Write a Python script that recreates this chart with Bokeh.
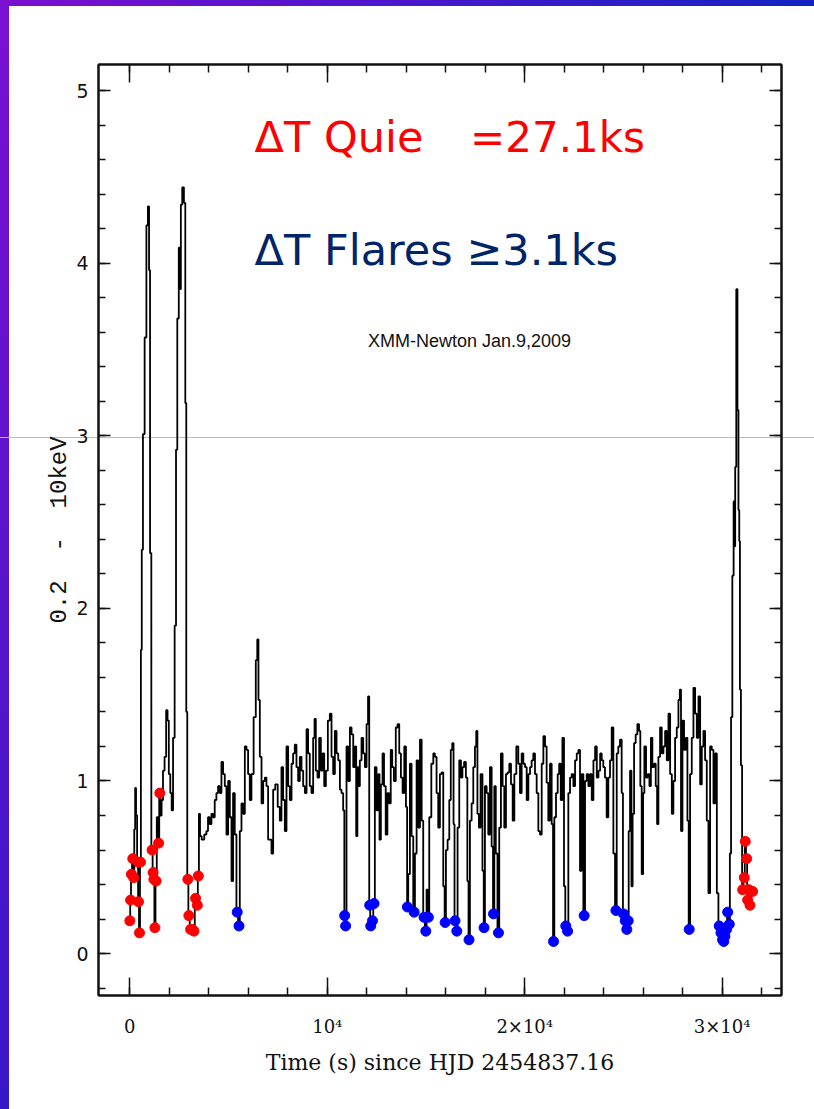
from bokeh.plotting import figure
from bokeh.models import Label, LinearAxis, SingleIntervalTicker, CustomJSTickFormatter, Range1d
from bokeh.embed import file_html
from bokeh.resources import INLINE

# ---- light curve (time in s, count rate 0.2-10 keV) ----
time_s = [0, 40, 80, 150, 200, 250, 290, 340, 400, 440, 490, 540, 580, 630, 700, 800, 880, 950, 1000, 1050,
          1130, 1180, 1220, 1270, 1330, 1400, 1460, 1520, 1580, 1640, 1720, 1800, 1880, 1940, 2010, 2090, 2150,
          2230, 2310, 2370, 2440, 2520, 2560, 2610, 2700, 2780, 2840, 2880, 2940, 2990, 3080, 3160, 3250, 3330,
          3420, 3470, 3530, 3580, 3700, 3840, 3920, 4000, 4090, 4180, 4260, 4340, 4430, 4510, 4600, 4680, 4770,
          4850, 4940, 5020, 5110, 5190, 5270, 5360, 5440, 5530, 5610, 5700, 5780, 5870, 5950, 6030, 6120, 6200,
          6340, 6420, 6490, 6540, 6630, 6710, 6800, 6880, 6960, 7050, 7130, 7220, 7300, 7430, 7550, 7640, 7720,
          7810, 7890, 7980, 8060, 8150, 8230, 8310, 8400, 8480, 8570, 8650, 8740, 8820, 8910, 8990, 9070, 9160,
          9240, 9330, 9380, 9460, 9550, 9630, 9720, 9800, 9890, 9970, 10090, 10170, 10260, 10340, 10430, 10510,
          10600, 10680, 10760, 10850, 10880, 10930, 11020, 11100, 11190, 11270, 11360, 11440, 11490, 11560, 11610,
          11690, 11780, 11860, 11950, 12030, 12100, 12150, 12200, 12290, 12370, 12450, 12540, 12620, 12670, 12760,
          12840, 12910, 13010, 13080, 13180, 13250, 13330, 13420, 13520, 13600, 13690, 13770, 13860, 13940, 14030,
          14060, 14140, 14230, 14310, 14400, 14480, 14570, 14650, 14740, 14820, 14900, 14990, 15070, 15120, 15210,
          15330, 15410, 15490, 15580, 15660, 15750, 15830, 15920, 15970, 16050, 16140, 16220, 16290, 16370, 16420,
          16470, 16560, 16640, 16730, 16810, 16880, 16980, 17060, 17130, 17180, 17270, 17350, 17440, 17520, 17570,
          17640, 17720, 17810, 17910, 17940, 18030, 18110, 18200, 18280, 18370, 18420, 18500, 18570, 18670, 18750,
          18840, 18920, 19010, 19090, 19180, 19260, 19350, 19430, 19520, 19630, 19720, 19800, 19890, 19970, 20060,
          20140, 20230, 20310, 20390, 20480, 20560, 20650, 20730, 20820, 20900, 20990, 21070, 21150, 21240, 21320,
          21410, 21460, 21540, 21630, 21710, 21780, 21870, 21950, 22030, 22080, 22170, 22250, 22340, 22420, 22510,
          22590, 22680, 22760, 22840, 22930, 23010, 23100, 23180, 23270, 23350, 23440, 23520, 23610, 23690, 23780,
          23860, 23940, 24020, 24110, 24190, 24280, 24360, 24450, 24530, 24620, 24700, 24780, 24870, 24950, 25000,
          25090, 25170, 25240, 25290, 25380, 25430, 25500, 25580, 25660, 25750, 25830, 25880, 25970, 26020, 26100,
          26190, 26270, 26360, 26420, 26510, 26590, 26680, 26730, 26810, 26900, 26980, 27070, 27150, 27240, 27320,
          27410, 27490, 27570, 27660, 27740, 27830, 27880, 27950, 28030, 28110, 28200, 28280, 28330, 28420, 28500,
          28590, 28670, 28760, 28840, 28930, 29010, 29090, 29180, 29260, 29350, 29430, 29520, 29600, 29690, 29770,
          29850, 29940, 30020, 30080, 30140, 30220, 30280, 30360, 30420, 30480, 30550, 30610, 30640, 30680, 30750,
          30800, 30850, 30880, 30920, 30980, 31040, 31120, 31170, 31240, 31290, 31350, 31410, 31540]

rate = [0.19, 0.31, 0.46, 0.55, 0.44, 0.72, 0.96, 0.80, 0.53, 0.30, 0.12, 0.53, 1.76, 2.34, 3.01, 3.57, 4.22, 4.33, 3.96, 2.32,
        0.60, 0.47, 0.43, 0.15, 0.42, 0.79, 0.64, 0.93, 0.80, 0.89, 1.06, 1.14, 1.41, 1.35, 1.04, 0.93, 0.83,
        1.25, 1.90, 2.92, 3.68, 4.09, 3.85, 4.34, 4.44, 4.35, 3.19, 1.40, 0.43, 0.22, 0.14, 0.14, 0.13, 0.32,
        0.28, 0.45, 0.81, 0.68, 0.66, 0.69, 0.71, 0.79, 0.75, 0.81, 0.79, 0.89, 0.93, 0.97, 0.93, 1.11, 1.04,
        0.97, 0.69, 1.00, 0.79, 0.42, 0.93, 0.69, 0.24, 0.16, 0.71, 0.87, 0.81, 1.20, 1.18, 1.04, 0.89, 1.04,
        1.37, 1.70, 1.82, 1.47, 1.14, 0.87, 1.00, 1.02, 0.97, 0.66, 0.66, 0.58, 0.95, 0.98, 0.85, 0.77, 1.08,
        0.89, 0.71, 1.20, 0.97, 0.89, 1.10, 1.16, 1.21, 1.08, 1.00, 1.14, 1.06, 0.97, 0.93, 1.30, 1.16, 0.97,
        0.93, 1.25, 1.36, 1.06, 1.02, 1.25, 1.06, 1.16, 0.97, 1.06, 1.35, 1.39, 1.14, 1.04, 1.29, 1.16,
        1.12, 0.95, 0.93, 0.83, 0.22, 0.16, 1.20, 1.00, 1.31, 1.27, 1.08, 1.20, 0.68, 1.08, 0.97,
        1.12, 1.25, 1.16, 1.08, 1.33, 1.49, 0.28, 0.16, 0.19, 0.29, 1.08, 0.83, 1.04, 0.66, 0.98,
        1.16, 0.97, 0.69, 0.93, 0.87, 1.18, 1.08, 1.00, 1.31, 1.33, 1.16, 1.02, 0.93, 1.20, 0.85,
        0.27, 0.46, 1.10, 0.68, 0.24, 0.58, 1.12, 0.73, 1.24, 0.77, 0.21, 0.13, 0.37, 0.21, 0.79,
        1.10, 1.16, 1.14, 0.93, 0.73, 1.04, 1.05, 0.39, 0.18, 0.60, 0.66, 0.89, 1.18, 1.22, 0.75,
        0.19, 0.13, 0.73, 1.12, 1.02, 1.08, 1.11, 1.02, 0.42, 0.08, 0.77, 0.87, 1.08, 1.20, 1.29,
        0.81, 0.73, 1.04, 0.48, 0.15, 0.97, 0.93, 0.69, 1.08, 0.62, 0.23, 0.97, 0.58, 0.12, 0.73,
        1.16, 0.97, 0.73, 1.04, 1.05, 1.10, 0.98, 0.77, 1.04, 1.20, 1.10, 0.93, 1.16, 1.10, 1.08,
        0.89, 1.04, 1.08, 1.12, 1.16, 1.04, 0.93, 0.71, 0.69, 1.10, 1.26, 1.20, 0.99, 0.77, 1.10,
        0.75, 0.07, 0.79, 0.93, 1.04, 1.10, 0.89, 1.25, 0.39, 0.16, 0.13, 0.93, 1.02, 1.04, 0.97,
        1.12, 1.16, 1.18, 0.48, 1.04, 0.22, 1.00, 1.04, 0.97, 1.04, 0.89, 1.12, 1.20, 1.02, 1.06,
        1.16, 1.12, 1.08, 1.02, 0.79, 1.02, 1.12, 1.31, 0.58, 0.25, 1.16, 1.20, 1.24, 0.93, 0.23,
        0.19, 0.14, 0.19, 0.71, 1.06, 0.39, 0.81, 1.22, 1.27, 1.33, 1.29, 0.97, 0.46, 0.93, 1.20,
        1.02, 1.04, 0.97, 1.25, 1.08, 1.10, 0.97, 0.75, 1.14, 1.31, 1.16, 1.20, 1.29, 1.12, 1.39,
        1.04, 0.81, 1.00, 1.25, 1.31, 1.47, 1.53, 0.71, 1.35, 1.18, 1.25, 0.77, 0.14, 1.04, 1.25,
        1.54, 1.39, 1.25, 1.49, 0.98, 1.20, 1.29, 1.12, 0.77, 0.35, 1.20, 1.18, 0.87, 1.16, 0.35,
        0.16, 0.12, 0.08, 0.07, 0.10, 0.14, 0.24, 0.17, 0.58, 1.37, 2.19, 2.62, 2.36, 2.82, 3.85,
        3.15, 2.57, 2.39, 1.53, 1.09, 0.37, 0.44, 0.65, 0.55, 0.31, 0.37, 0.28, 0.36]

# bins marked with red dots (quiescent) and blue dots (dips)
red_times = [0, 40, 80, 150, 200, 400, 440, 490, 540, 1130, 1180, 1220, 1270, 1330, 1460, 1520,
             2940, 2990, 3080, 3160, 3250, 3330, 3420, 3470,
             31040, 31120, 31170, 31240, 31290, 31350, 31410, 31540]
blue_times = [5440, 5530, 10880, 10930, 12150, 12200, 12290, 12370, 14060, 14400, 14900, 14990, 15120,
              15970, 16470, 16560, 17180, 17940, 18420, 18670, 21460, 22080, 22170, 23010, 24620,
              25000, 25090, 25170, 25240, 28330, 29850, 29940, 30020, 30080, 30140, 30220, 30280, 30360]

x_ticks = [0, 10000, 20000, 30000]
x_tick_labels = ["0", "10\u2074", "2\u00d710\u2074", "3\u00d710\u2074"]

lookup = dict(zip(time_s, rate))
red_v = [lookup[t] for t in red_times]
blue_v = [lookup[t] for t in blue_times]

p = figure(width=814, height=1109, output_backend="svg", toolbar_location=None,
           x_range=Range1d(-1586, 33005), y_range=Range1d(-0.243, 5.152),
           min_border_left=98, min_border_right=33, min_border_top=64, min_border_bottom=114)

p.styles = {"background": (
    "linear-gradient(#b9b9de, #b9b9de) 0 437px / 100% 1px no-repeat, "
    "linear-gradient(90deg, #7c0fcf, #4a17cc 50%, #1423c0) 0 0 / 100% 6px no-repeat, "
    "linear-gradient(180deg, #7a10d0, #5a14cc 50%, #3817c8) 0 0 / 9px 100% no-repeat, #ffffff")}
p.border_fill_alpha = 0
p.background_fill_alpha = 0
p.outline_line_color = "#111111"
p.outline_line_width = 2
p.grid.visible = False

p.step(time_s, rate, mode="center", line_color="black", line_width=1.8)
p.scatter(red_times, red_v, size=10, color="#ff0000")
p.scatter(blue_times, blue_v, size=10, color="#0000ff")


def style_axis(ax, ticker):
    ax.ticker = ticker
    ax.axis_line_color = "#111111"
    ax.axis_line_width = 2
    ax.major_tick_line_color = "#111111"
    ax.minor_tick_line_color = "#111111"
    ax.major_tick_line_width = 1.5
    ax.minor_tick_line_width = 1.5
    ax.major_tick_out = 0
    ax.minor_tick_out = 0


for ax in p.xaxis:
    style_axis(ax, SingleIntervalTicker(interval=10000, num_minor_ticks=5))
    ax.major_tick_in = 18
    ax.minor_tick_in = 8
    ax.major_label_overrides = dict(zip(x_ticks, x_tick_labels))
    ax.major_label_text_font = "DejaVu Serif"
    ax.major_label_text_font_size = "18px"
    ax.major_label_text_color = "#111111"
    ax.major_label_standoff = 20
    ax.axis_label = "Time (s) since HJD 2454837.16"
    ax.axis_label_text_font = "DejaVu Serif"
    ax.axis_label_text_font_size = "22px"
    ax.axis_label_text_font_style = "normal"
    ax.axis_label_text_color = "#111111"
    ax.axis_label_standoff = 10

for ax in p.yaxis:
    style_axis(ax, SingleIntervalTicker(interval=1, num_minor_ticks=5))
    ax.major_tick_in = 12
    ax.minor_tick_in = 7
    ax.major_label_text_font = "DejaVu Sans"
    ax.major_label_text_font_size = "19px"
    ax.major_label_text_color = "#111111"
    ax.major_label_standoff = 10
    ax.major_label_orientation = "horizontal"
    ax.axis_label = "0.2\u00a0\u00a0-\u00a0\u00a010keV"
    ax.axis_label_text_font = "Liberation Mono"
    ax.axis_label_text_font_size = "24px"
    ax.axis_label_text_font_style = "normal"
    ax.axis_label_text_color = "#111111"
    ax.axis_label_standoff = 0

blank = CustomJSTickFormatter(code="return ''")
top = LinearAxis(formatter=blank)
style_axis(top, SingleIntervalTicker(interval=10000, num_minor_ticks=5))
top.major_tick_in = 18
top.minor_tick_in = 8
p.add_layout(top, "above")
right = LinearAxis(formatter=blank)
style_axis(right, SingleIntervalTicker(interval=1, num_minor_ticks=5))
right.major_tick_in = 12
right.minor_tick_in = 7
p.add_layout(right, "right")

p.add_layout(Label(x=6320, y=4.73, text="\u0394T Quie", text_color="#ff0000",
                   text_font="DejaVu Sans", text_font_size="43px", text_baseline="alphabetic"))
p.add_layout(Label(x=17230, y=4.73, text="=27.1ks", text_color="#ff0000",
                   text_font="DejaVu Sans", text_font_size="42px", text_baseline="alphabetic"))
p.add_layout(Label(x=6320, y=4.075, text="\u0394T Flares \u22653.1ks", text_color="#002468",
                   text_font="DejaVu Sans", text_font_size="43px", text_baseline="alphabetic"))
p.add_layout(Label(x=12060, y=3.55, text="XMM-Newton Jan.9,2009", text_color="#111111",
                   text_font="Liberation Sans", text_font_size="18px", text_baseline="alphabetic"))

open("out.html", "w").write(file_html(p, INLINE))
